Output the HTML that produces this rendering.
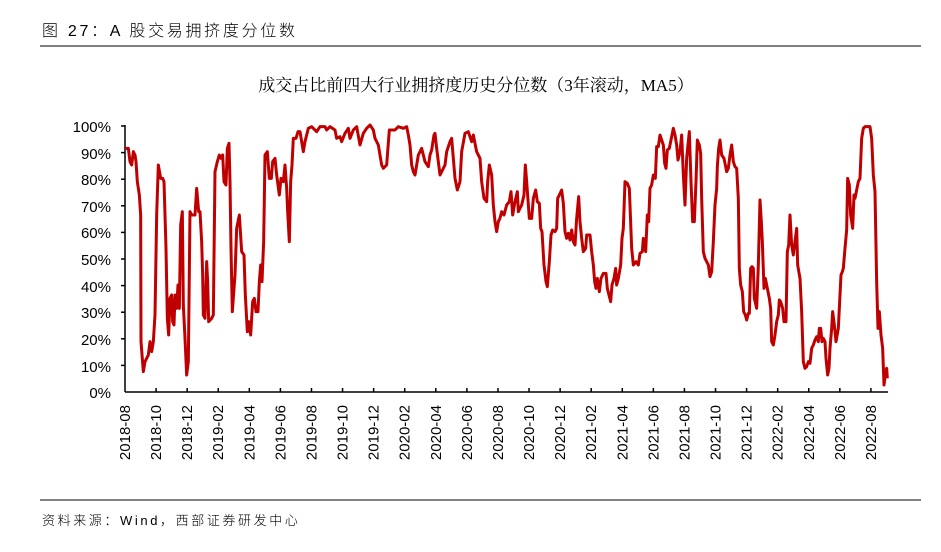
<!DOCTYPE html>
<html><head><meta charset="utf-8"><style>
body{margin:0;background:#fff;width:941px;height:552px;overflow:hidden}
</style></head><body>
<svg width="941" height="552" xmlns="http://www.w3.org/2000/svg" style="position:absolute;left:0;top:0">
<text x="42" y="36" font-family="Liberation Sans,Noto Sans CJK SC,sans-serif" font-weight="300" font-size="16" letter-spacing="2.7" fill="#000">图 27：A 股交易拥挤度分位数</text>
<line x1="40" y1="46" x2="921" y2="46" stroke="#000" stroke-width="1"/>
<text x="476" y="91" text-anchor="middle" font-family="Liberation Serif,Noto Serif CJK SC,serif" font-size="17" fill="#000">成交占比前四大行业拥挤度历史分位数（3年滚动，MA5）</text>
<g font-family="Liberation Sans,sans-serif" font-size="15" fill="#000" text-anchor="end">
<text x="111" y="132">100%</text><text x="111" y="159">90%</text><text x="111" y="185">80%</text><text x="111" y="212">70%</text><text x="111" y="238">60%</text><text x="111" y="265">50%</text><text x="111" y="292">40%</text><text x="111" y="318">30%</text><text x="111" y="345">20%</text><text x="111" y="372">10%</text><text x="111" y="398">0%</text>
</g>
<g stroke="#000" stroke-width="1.5">
<line x1="125" y1="125" x2="125" y2="392"/>
<line x1="125" y1="392" x2="888" y2="392"/>
<line x1="121" y1="126" x2="125" y2="126"/><line x1="121" y1="152.6" x2="125" y2="152.6"/><line x1="121" y1="179.2" x2="125" y2="179.2"/><line x1="121" y1="205.8" x2="125" y2="205.8"/><line x1="121" y1="232.4" x2="125" y2="232.4"/><line x1="121" y1="259" x2="125" y2="259"/><line x1="121" y1="285.6" x2="125" y2="285.6"/><line x1="121" y1="312.2" x2="125" y2="312.2"/><line x1="121" y1="338.8" x2="125" y2="338.8"/><line x1="121" y1="365.4" x2="125" y2="365.4"/>
</g>
<g stroke="#000" stroke-width="1.5" id="xt"></g>
<g id="xl" font-family="Liberation Sans,sans-serif" font-size="15" fill="#000"></g>
<g fill="none" stroke="#c00000" stroke-width="9" stroke-linejoin="round" transform="translate(120,115) scale(0.33333)">
<polyline points="15,100 25,100 30,140 35,150 40,110 45,120 48,140 52,200 58,240 62,300 63,680 70,770 75,740 85,720 90,680 95,710 100,680 105,600 110,300 115,150 122,190 128,190 132,200 138,400 142,610 146,660 150,550 155,540 158,620 162,630 165,540 170,580 174,510 178,580 182,330 187,290 190,570 195,670 200,780 205,740 210,290 215,300 225,300 230,220 236,290 240,290 245,380 248,480 250,600 255,610 260,440 263,500 266,620 275,610 280,600 285,170 292,140 298,120 303,130 308,120 312,200 318,210 322,100 327,85 330,200 333,400 337,590 345,480 350,340 358,300 365,410 372,420 376,540 382,650 386,620 392,660 398,560 403,550 408,590 414,590 418,500 422,450 426,500 431,380 435,120 442,110 448,190 454,190 458,140 465,130 470,180 478,240 483,190 490,200 495,150 500,220 503,290 508,380 512,200 516,150 520,70 528,70 534,50 540,50 545,80 550,110 555,80 565,40 575,35 590,50 600,35 615,35 620,45 630,35 645,45 650,70 660,65 665,80 675,55 685,40 690,70 700,45 710,35 720,90 730,55 740,40 750,30 760,45 765,70 775,90 785,150 790,160 800,150 808,45 825,45 835,35 850,40 860,35 865,60 870,90 875,150 880,170 885,180 895,120 905,100 915,140 925,155 930,120 935,105 942,60 945,55 950,100 955,140 960,180 965,170 975,150 980,110 990,80 995,70 1000,130 1005,190 1012,225 1020,200 1025,110 1035,55 1045,50 1055,80 1060,60 1070,110 1080,130 1085,200 1092,250 1100,260 1103,200 1108,150 1115,180 1120,270 1125,320 1130,350 1135,320 1140,310"/>
</g>
<g fill="none" stroke="#c00000" stroke-width="9" stroke-linejoin="round" transform="translate(500,115) scale(0.33333)">
<polyline points="0,310 5,290 12,300 20,270 28,260 33,230 38,300 45,260 52,230 55,290 65,270 72,240 76,150 80,200 88,310 95,310 100,250 107,225 112,260 118,265 122,340 126,350 132,450 138,500 142,515 148,440 153,360 158,345 165,350 170,340 173,250 178,240 185,225 190,265 195,350 200,370 205,355 210,375 215,345 220,380 225,390 230,310 236,245 240,320 245,370 250,410 257,400 260,360 270,360 275,410 280,450 284,500 288,520 292,490 298,530 303,490 310,475 318,475 322,520 327,540 332,560 336,510 342,490 347,460 350,510 355,490 362,450 366,370 370,340 375,200 382,205 388,220 395,400 400,450 408,440 415,450 420,415 427,410 430,370 437,410 442,300 446,320 450,220 455,210 460,180 466,190 470,95 475,95 480,60 490,90 494,145 498,160 502,105 508,100 514,70 520,40 525,60 530,90 534,135 540,110 545,60 550,180 555,270 560,130 568,50 573,200 578,320 583,320 588,200 592,75 598,90 602,115 605,250 610,410 615,430 620,440 625,450 630,485 635,470 640,380 645,270 650,220 652,155 656,100 660,75 665,120 672,130 676,150 680,170 685,160 690,120 695,90 700,140 705,155 710,160 715,250 718,460 722,510 727,530 731,590 736,600 740,615 745,595 748,595 752,460 756,455 760,460 763,550 770,580 775,450 780,255 784,320 787,380 792,520 796,490 802,520 808,550 812,580 815,680 820,690 825,660 830,620 835,600 838,555 842,560 848,580 852,620 858,620 862,410 866,390 870,300 875,390 880,420 885,380 890,340 893,450 900,490 905,590 910,740 915,760 920,755 925,740 930,745 935,700 940,690 945,675 950,665 955,680 958,640 962,640 966,680 970,670 975,680 978,730 983,780 987,760 990,700 995,640 998,590 1003,630 1008,680 1015,640 1020,540 1023,480 1027,470 1030,460 1035,400 1040,345 1043,190 1048,210 1052,300 1058,340 1062,240 1065,250 1070,225 1075,200 1080,190 1085,70 1090,40 1095,35 1110,35 1115,70 1120,180 1125,230 1130,500 1134,640 1138,590 1143,660 1148,700 1152,810 1156,780 1160,760 1162,790"/>
</g>
<line x1="40" y1="500" x2="921" y2="500" stroke="#000" stroke-width="1"/>
<text x="42" y="525" font-family="Liberation Sans,Noto Sans CJK SC,sans-serif" font-weight="300" font-size="13" letter-spacing="2.6" fill="#000">资料来源：Wind，西部证券研发中心</text>
</svg>
<script>
var ns="http://www.w3.org/2000/svg",xt=document.getElementById("xt"),xl=document.getElementById("xl");
var labs=[];for(var y=2018;y<=2022;y++)for(var m=2;m<=12;m+=2){var s=y+"-"+(m<10?"0":"")+m;if((y==2018&&m<8)||(y==2022&&m>8))continue;labs.push(s);}
for(var i=0;i<labs.length;i++){var x=125+i*31.08;
if(i>0){var l=document.createElementNS(ns,"line");l.setAttribute("x1",x);l.setAttribute("x2",x);l.setAttribute("y1",392);l.setAttribute("y2",388);xt.appendChild(l);}
var t=document.createElementNS(ns,"text");t.setAttribute("transform","translate("+(x+5)+",405) rotate(-90)");t.setAttribute("text-anchor","end");t.textContent=labs[i];xl.appendChild(t);}
</script>
</body></html>
